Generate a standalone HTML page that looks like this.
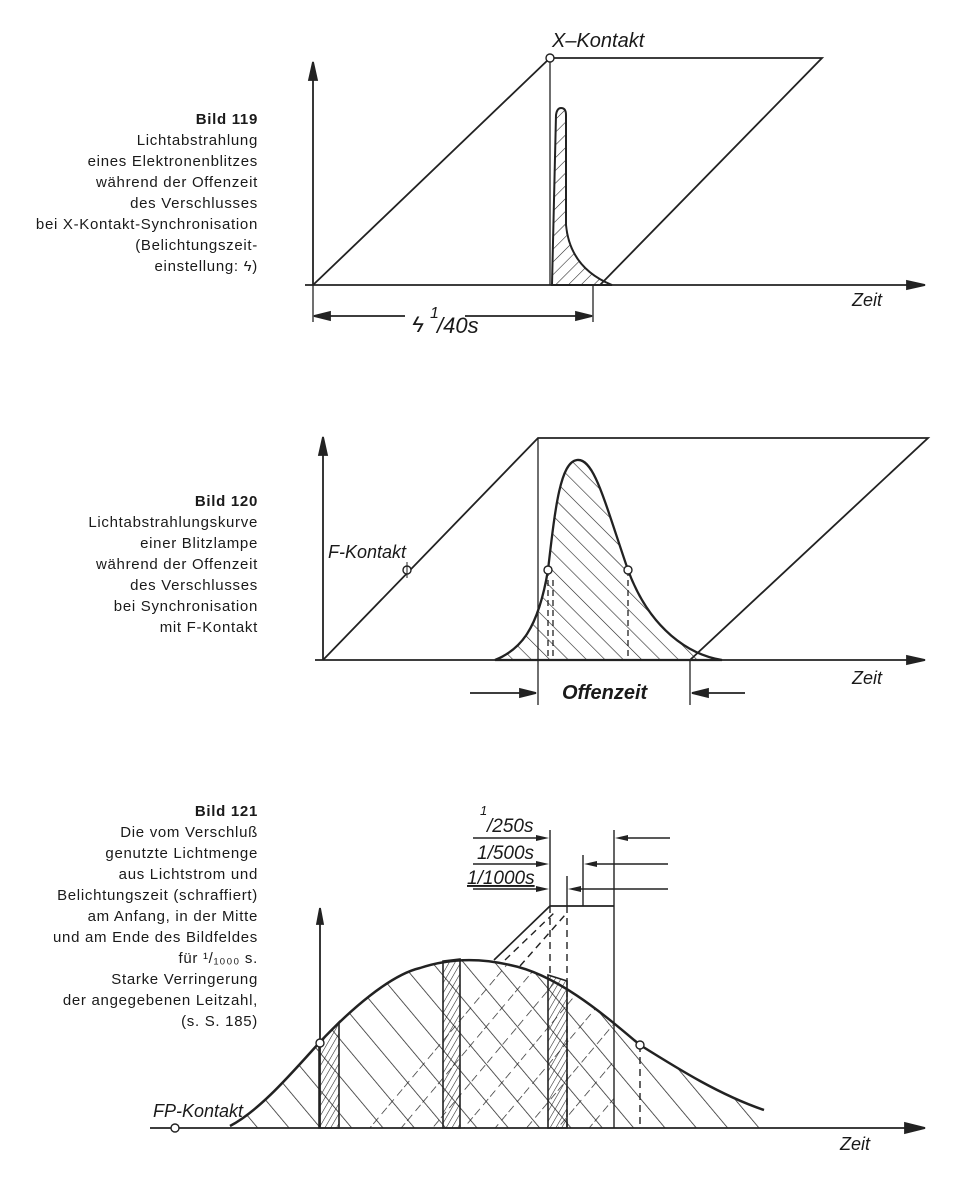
<!DOCTYPE html>
<html><head><meta charset="utf-8"><style>
html,body{margin:0;padding:0;background:#fff;}
svg{display:block}
.cap{font-family:"Liberation Sans",sans-serif;font-size:15px;fill:#1a1a1a;text-anchor:end;letter-spacing:0.7px}
.b{font-weight:bold}
.it{font-family:"Liberation Sans",sans-serif;font-style:italic;fill:#1a1a1a}
</style></head><body>
<svg width="955" height="1181" viewBox="0 0 955 1181" xmlns="http://www.w3.org/2000/svg">
<defs>
<pattern id="h1" patternUnits="userSpaceOnUse" width="9" height="9" patternTransform="rotate(45)"><line x1="0" y1="0" x2="0" y2="9" stroke="#222" stroke-width="1.1"/></pattern>
<pattern id="h2" patternUnits="userSpaceOnUse" width="13" height="13" patternTransform="rotate(-45)"><line x1="0" y1="0" x2="0" y2="13" stroke="#222" stroke-width="1.2"/></pattern>
<pattern id="h3" patternUnits="userSpaceOnUse" width="24" height="24" patternTransform="rotate(-40)"><line x1="0" y1="0" x2="0" y2="24" stroke="#222" stroke-width="1.5"/></pattern>
<pattern id="h4" patternUnits="userSpaceOnUse" width="24" height="24" patternTransform="rotate(40)"><line x1="0" y1="0" x2="0" y2="24" stroke="#222" stroke-width="1.4" stroke-dasharray="8,5"/></pattern>
<pattern id="h5" patternUnits="userSpaceOnUse" width="5" height="5" patternTransform="rotate(30)"><line x1="0" y1="0" x2="0" y2="5" stroke="#222" stroke-width="1.1"/></pattern>
<clipPath id="c3"><path d="M230,1126 C260,1110 290,1075 319,1043 C350,1010 390,975 420,968 C450,958 480,958 510,965 C560,975 610,1020 640,1045 C680,1070 720,1095 764,1110 L764,1128 L230,1128 Z"/></clipPath>
<clipPath id="band"><path d="M550,906 L614,906 L614,1128 L340,1128 Z"/></clipPath>
</defs>

<g class="cap">
<text x="258" y="124" class="b">Bild 119</text>
<text x="258" y="145">Lichtabstrahlung</text>
<text x="258" y="166">eines Elektronenblitzes</text>
<text x="258" y="187">während der Offenzeit</text>
<text x="258" y="208">des Verschlusses</text>
<text x="258" y="229">bei  X-Kontakt-Synchronisation</text>
<text x="258" y="250">(Belichtungszeit-</text>
<text x="258" y="271">einstellung: ϟ)</text>

<text x="258" y="506" class="b">Bild 120</text>
<text x="258" y="527">Lichtabstrahlungskurve</text>
<text x="258" y="548">einer Blitzlampe</text>
<text x="258" y="569">während der Offenzeit</text>
<text x="258" y="590">des Verschlusses</text>
<text x="258" y="611">bei Synchronisation</text>
<text x="258" y="632">mit F-Kontakt</text>

<text x="258" y="816" class="b">Bild 121</text>
<text x="258" y="837">Die vom Verschluß</text>
<text x="258" y="858">genutzte Lichtmenge</text>
<text x="258" y="879">aus Lichtstrom und</text>
<text x="258" y="900">Belichtungszeit (schraffiert)</text>
<text x="258" y="921">am Anfang, in der Mitte</text>
<text x="258" y="942">und am Ende des Bildfeldes</text>
<text x="258" y="963">für ¹/₁₀₀₀ s.</text>
<text x="258" y="984">Starke Verringerung</text>
<text x="258" y="1005">der angegebenen Leitzahl,</text>
<text x="258" y="1026">(s. S. 185)</text>
</g>

<!-- Figure 1 -->
<g stroke="#222" fill="none" stroke-width="1.8">
<line x1="313" y1="285" x2="313" y2="70"/>
<path d="M313,62 L309,80 L317,80 Z" fill="#222"/>
<line x1="305" y1="285" x2="915" y2="285"/>
<path d="M925,285 L907,281 L907,289 Z" fill="#222"/>
<path d="M313,285 L550,58 L822,58 L600,285"/>
<line x1="550" y1="58" x2="550" y2="285" stroke-width="1.3"/>
<path d="M552,285 L556,115 Q557,108 561,108 Q566,108 566,115 L566,225 Q570,268 612,285 Z" fill="url(#h1)" stroke-width="2"/>
<line x1="593" y1="285" x2="593" y2="322" stroke-width="1.3"/>
<line x1="313" y1="285" x2="313" y2="322" stroke-width="1.3"/>
<line x1="320" y1="316" x2="405" y2="316"/>
<line x1="465" y1="316" x2="585" y2="316"/>
<path d="M314,316 L330,312 L330,320 Z" fill="#222"/>
<path d="M592,316 L576,312 L576,320 Z" fill="#222"/>
</g>
<circle cx="550" cy="58" r="4" fill="#fff" stroke="#222" stroke-width="1.4"/>
<text x="552" y="47" class="it" font-size="20">X–Kontakt</text>
<text x="852" y="306" class="it" font-size="18">Zeit</text>
<text x="412" y="332" class="it" font-size="22">ϟ</text>
<text x="430" y="318" class="it" font-size="16">1</text>
<text x="437" y="333" class="it" font-size="22">/40s</text>

<!-- Figure 2 -->
<g stroke="#222" fill="none" stroke-width="1.8">
<line x1="323" y1="660" x2="323" y2="445"/>
<path d="M323,437 L319,455 L327,455 Z" fill="#222"/>
<line x1="315" y1="660" x2="915" y2="660"/>
<path d="M925,660 L907,656 L907,664 Z" fill="#222"/>
<path d="M323,660 L538,438 L928,438 L690,660"/>
<line x1="538" y1="438" x2="538" y2="705" stroke-width="1.3"/>
<line x1="690" y1="660" x2="690" y2="705" stroke-width="1.3"/>
<path d="M495,660 C520,650 538,630 548,570 C555,510 560,462 577,460 C594,458 604,500 628,570 C650,630 690,655 722,660 Z" fill="url(#h2)" stroke-width="2.3"/>
<line x1="548" y1="570" x2="548" y2="660" stroke-dasharray="6,4" stroke-width="1.3"/>
<line x1="553" y1="580" x2="553" y2="660" stroke-dasharray="6,4" stroke-width="1.3"/>
<line x1="628" y1="570" x2="628" y2="660" stroke-dasharray="6,4" stroke-width="1.3"/>
<line x1="470" y1="693" x2="525" y2="693"/>
<path d="M536,693 L520,689 L520,697 Z" fill="#222"/>
<line x1="745" y1="693" x2="703" y2="693"/>
<path d="M692,693 L708,689 L708,697 Z" fill="#222"/>
</g>
<circle cx="548" cy="570" r="4" fill="#fff" stroke="#222" stroke-width="1.4"/>
<circle cx="628" cy="570" r="4" fill="#fff" stroke="#222" stroke-width="1.4"/>
<circle cx="407" cy="570" r="4" fill="#fff" stroke="#222" stroke-width="1.4"/>
<line x1="407" y1="562" x2="407" y2="578" stroke="#222"/>
<text x="328" y="558" class="it" font-size="18">F-Kontakt</text>
<text x="562" y="699" class="it" font-size="20" font-weight="bold">Offenzeit</text>
<text x="852" y="684" class="it" font-size="18">Zeit</text>

<!-- Figure 3 -->
<g clip-path="url(#c3)"><rect x="220" y="940" width="560" height="190" fill="url(#h3)"/></g>
<g clip-path="url(#band)"><g clip-path="url(#c3)"><rect x="330" y="900" width="300" height="230" fill="url(#h4)"/></g></g>
<path d="M494,960 L550,906 L614,906" fill="none" stroke="#222" stroke-width="1.7"/>
<g stroke="#222" fill="none" stroke-width="1.4" stroke-dasharray="7,5">
<line x1="505" y1="960" x2="555" y2="912"/>
<line x1="520" y1="966" x2="565" y2="915"/>
<line x1="567" y1="906" x2="567" y2="1128"/>
<line x1="640" y1="1045" x2="640" y2="1128"/>
<line x1="550" y1="906" x2="550" y2="975"/>
</g>
<g fill="url(#h5)" stroke="#222" stroke-width="1.6">
<path d="M319,1043 L339,1022 L339,1128 L319,1128 Z"/>
<path d="M443,961 L460,959 L460,1128 L443,1128 Z"/>
<path d="M548,975 L567,981 L567,1128 L548,1128 Z"/>
</g>
<g stroke="#222" fill="none" stroke-width="1.8">
<path d="M230,1126 C260,1110 290,1075 319,1043 C350,1010 390,975 420,968 C450,958 480,958 510,965 C560,975 610,1020 640,1045 C680,1070 720,1095 764,1110" stroke-width="2.5"/>
<line x1="320" y1="1128" x2="320" y2="918"/>
<path d="M320,908 L317,924 L323,924 Z" fill="#222"/>
<line x1="150" y1="1128" x2="910" y2="1128"/>
<path d="M925,1128 L905,1123 L905,1133 Z" fill="#222"/>
<line x1="614" y1="830" x2="614" y2="1128" stroke-width="1.4"/>
<line x1="550" y1="830" x2="550" y2="906" stroke-width="1.4"/>
<line x1="567" y1="876" x2="567" y2="906" stroke-width="1.4"/>
<line x1="583" y1="855" x2="583" y2="906" stroke-width="1.4"/>
<line x1="473" y1="838" x2="542" y2="838" stroke-width="1.4"/>
<line x1="473" y1="864" x2="542" y2="864" stroke-width="1.4"/>
<line x1="473" y1="889" x2="542" y2="889" stroke-width="1.4"/>
<line x1="670" y1="838" x2="625" y2="838" stroke-width="1.4"/>
<line x1="668" y1="864" x2="594" y2="864" stroke-width="1.4"/>
<line x1="668" y1="889" x2="578" y2="889" stroke-width="1.4"/>
</g>
<g fill="#222">
<path d="M549,838 L536,835 L536,841 Z"/><path d="M549,864 L536,861 L536,867 Z"/><path d="M549,889 L536,886 L536,892 Z"/>
<path d="M615,838 L628,835 L628,841 Z"/><path d="M584,864 L597,861 L597,867 Z"/><path d="M568,889 L581,886 L581,892 Z"/>
</g>
<circle cx="320" cy="1043" r="4" fill="#fff" stroke="#222" stroke-width="1.4"/>
<circle cx="640" cy="1045" r="4" fill="#fff" stroke="#222" stroke-width="1.4"/>
<circle cx="175" cy="1128" r="4" fill="#fff" stroke="#222" stroke-width="1.4"/>
<text x="480" y="815" class="it" font-size="13">1</text>
<text x="487" y="832" class="it" font-size="19">/250s</text>
<text x="477" y="859" class="it" font-size="19">1/500s</text>
<text x="467" y="884" class="it" font-size="19" text-decoration="underline">1/1000s</text>
<text x="153" y="1117" class="it" font-size="18">FP-Kontakt</text>
<text x="840" y="1150" class="it" font-size="18">Zeit</text>
</svg>
</body></html>
